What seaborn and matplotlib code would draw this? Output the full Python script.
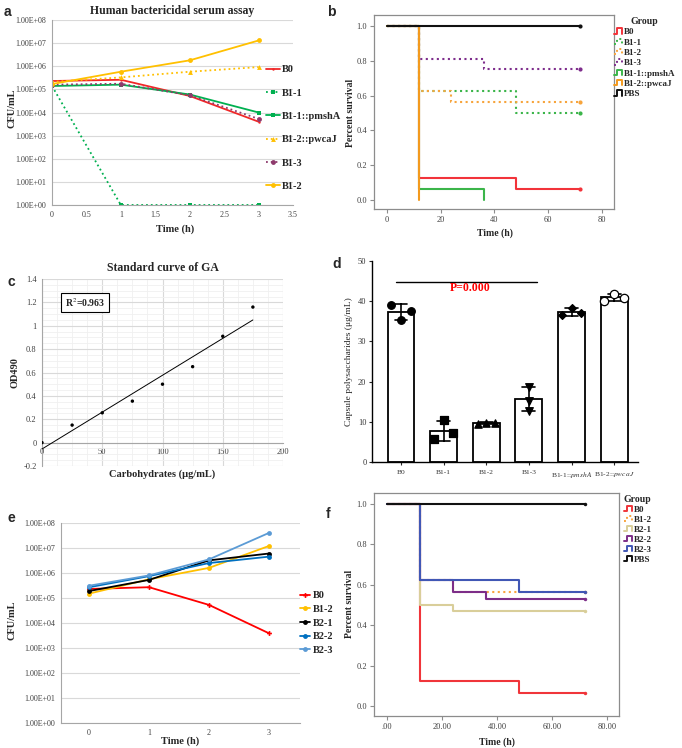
import numpy as np
import pandas as pd
import seaborn as sns
import matplotlib
matplotlib.use('Agg')
import matplotlib.pyplot as plt
from matplotlib.lines import Line2D
from matplotlib.legend_handler import HandlerBase
from matplotlib.ticker import NullLocator, MultipleLocator, FuncFormatter

sns.set_theme(style='white')
plt.rcParams['font.family'] = ['Liberation Serif', 'DejaVu Serif']
plt.rcParams['mathtext.fontset'] = 'stix'

### data

# a: human bactericidal serum assay
a_time = [0, 1, 2, 3]
a_groups = ['B0', 'B1-1', 'B1-1::pmshA', 'B1-2::pwcaJ', 'B1-3', 'B1-2']
a_cfu = [[2.3e5, 2.6e5, 5.2e4, 4.0e3],
         [1.4e5, 1, 1, 1],
         [1.4e5, 1.6e5, 6.0e4, 1.0e4],
         [2.1e5, 3.3e5, 5.8e5, 9.2e5],
         [1.6e5, 1.75e5, 5.6e4, 5.3e3],
         [1.7e5, 5.8e5, 1.8e6, 1.3e7]]

# b: survival, first set of strains
b_groups = ['B0', 'B1-1', 'B1-2', 'B1-3', 'B1-1::pmshA', 'B1-2::pwcaJ', 'PBS']
b_times = [[0, 12, 48, 72], [0, 12, 48, 72], [0, 12, 24, 72], [0, 12, 36, 72],
           [0, 12, 36], [0, 12], [0, 72]]
b_surv = [[1, 0.125, 0.0625, 0.0625], [1, 0.625, 0.5, 0.5], [1, 0.625, 0.5625, 0.5625],
          [1, 0.8125, 0.75, 0.75], [1, 0.0625, 0.0], [1, 0.0], [1, 1]]
b_censored = [True, True, True, True, False, False, True]

# c: standard curve
c_carb = [0, 25, 50, 75, 100, 125, 150, 175]
c_od = [0.0, 0.15, 0.255, 0.355, 0.50, 0.65, 0.91, 1.16]

# d: capsule polysaccharides
d_groups = ['B0', 'B1-1', 'B1-2', 'B1-3', 'B1-1::pmshA', 'B1-2::pwcaJ']
d_ticklabels = ['B0', 'B1-1', 'B1-2', 'B1-3', r'B1-1::$\mathit{pmshA}$', r'B1-2::$\mathit{pwcaJ}$']
d_points = [[39.0, 35.2, 37.6], [5.7, 10.4, 7.1], [9.4, 9.8, 9.7],
            [18.7, 15.2, 12.8], [36.6, 38.4, 37.0], [40.1, 41.8, 40.9]]

# e: serum assay, second set
e_time = [0, 1, 2, 3]
e_groups = ['B0', 'B1-2', 'B2-1', 'B2-2', 'B2-3']
e_cfu = [[2.3e5, 2.7e5, 5.3e4, 3.9e3],
         [1.5e5, 5.6e5, 1.6e6, 1.2e7],
         [1.9e5, 5.3e5, 3.2e6, 6.0e6],
         [2.7e5, 7.5e5, 2.5e6, 4.5e6],
         [3.1e5, 8.0e5, 3.5e6, 4.0e7]]

# f: survival, second set
f_groups = ['B0', 'B1-2', 'B2-1', 'B2-2', 'B2-3', 'PBS']
f_times = [[0, 12, 48, 72], [0, 12, 24, 72], [0, 12, 24, 72], [0, 12, 24, 36, 72],
           [0, 12, 48, 72], [0, 72]]
f_surv = [[1, 0.125, 0.0625, 0.0625], [1, 0.625, 0.5625, 0.5625], [1, 0.5, 0.46875, 0.46875],
          [1, 0.625, 0.5625, 0.53125, 0.53125], [1, 0.625, 0.5625, 0.5625], [1, 1]]

### layout helpers

W, H = 682, 748
fig = plt.figure(figsize=(W / 100, H / 100), dpi=100)


def add_ax(box):
    l, t, r, b = box
    return fig.add_axes([l / W, 1 - b / H, (r - l) / W, (b - t) / H])


def place_labels(ax, box, xlab, ylab, xpos, ypos, size=7.5, weight='bold'):
    l, t, r, b = box
    ax.set_xlabel(xlab, fontsize=size, fontweight=weight, va='center', ha='center')
    ax.set_ylabel(ylab, fontsize=size, fontweight=weight, va='center', ha='center')
    ax.xaxis.set_label_coords((xpos[0] - l) / (r - l), (b - xpos[1]) / (b - t))
    ax.yaxis.set_label_coords((ypos[0] - l) / (r - l), (b - ypos[1]) / (b - t))


class StepHandler(HandlerBase):
    def create_artists(self, legend, orig, xd, yd, w, h, fs, trans):
        xs = np.array([0, 0.35, 0.35, 1.0, 1.0]) * w - xd
        ys = np.array([0.1, 0.1, 0.95, 0.95, 0.1]) * h - yd
        ln = Line2D(xs, ys, color=orig.get_color(), linestyle=orig.get_linestyle(), lw=1.4)
        ln.set_transform(trans)
        return [ln]


def fig_anchor(x, y):
    return (x / W, 1 - y / H)


def cfu_axes(ax):
    ax.set_yscale('log')
    ax.set_ylim(1, 1e8)
    ax.set_yticks([10 ** i for i in range(9)])
    ax.set_yticklabels(['1.00E+%02d' % i for i in range(9)])
    ax.yaxis.set_minor_locator(NullLocator())
    ax.grid(axis='y', color='#D9D9D9', lw=0.8)
    ax.grid(axis='x', visible=False)
    for s in ['top', 'right']:
        ax.spines[s].set_visible(False)
    for s in ['left', 'bottom']:
        ax.spines[s].set_color('#A6A6A6')
        ax.spines[s].set_linewidth(0.8)
    ax.tick_params(length=0, labelsize=5.8, colors='#404040', pad=4)


def km_axes(ax, xlim, ylim):
    ax.set_xlim(*xlim)
    ax.set_ylim(*ylim)
    ax.set_yticks([0, 0.2, 0.4, 0.6, 0.8, 1.0])
    ax.yaxis.set_major_formatter(FuncFormatter(lambda v, p: '%.1f' % v))
    for s in ax.spines.values():
        s.set_color('#8C8C8C')
        s.set_linewidth(0.9)
    ax.tick_params(direction='out', length=3, width=0.8, colors='#8C8C8C',
                   labelcolor='#404040', labelsize=6, left=True, bottom=True, pad=2)
    ax.grid(False)


### panel a
box_a = (52, 20, 293, 205)
ax = add_ax(box_a)
a_colors = ['#F02828', '#00B050', '#00B050', '#FFC000', '#8E3A6C', '#FFC000']
a_styles = ['-', ':', '-', ':', ':', '-']
a_markers = ['.', 's', 's', '^', 'o', 'o']
for g, vals, col, ls, mk in zip(a_groups, a_cfu, a_colors, a_styles, a_markers):
    sns.lineplot(x=a_time, y=vals, ax=ax, color=col, linestyle=ls, marker=mk,
                 markersize=3.5, markeredgewidth=0, lw=1.3, label=g, errorbar=None, legend=False)
cfu_axes(ax)
ax.set_xlim(0, 3.5)
ax.set_xticks([0, 0.5, 1, 1.5, 2, 2.5, 3, 3.5])
ax.set_xticklabels(['0', '0.5', '1', '1.5', '2', '2.5', '3', '3.5'])
ax.set_title('Human bactericidal serum assay', fontsize=8.5, fontweight='bold', pad=4)
place_labels(ax, box_a, 'Time (h)', 'CFU/mL', (175, 229), (12, 108))
h, l = ax.get_legend_handles_labels()
ax.legend(h, l, loc='upper left', bbox_to_anchor=fig_anchor(266, 65), bbox_transform=fig.transFigure,
          frameon=False, prop={'weight': 'bold', 'size': 7.5}, handlelength=1.3,
          handletextpad=0.25, labelspacing=1.35, borderpad=0, borderaxespad=0)

### panel b
box_b = (374, 15, 614, 209)
ax = add_ax(box_b)
b_colors = ['#F2333A', '#3BB54A', '#F7A43C', '#7E2D8C', '#3BB54A', '#F39A1E', '#111111']
b_styles = ['-', ':', ':', ':', '-', '-', '-']
for g, t, s, col, ls, cens in zip(b_groups, b_times, b_surv, b_colors, b_styles, b_censored):
    sns.lineplot(x=t, y=s, ax=ax, color=col, linestyle=ls, lw=1.5, drawstyle='steps-post',
                 sort=False, estimator=None, label=g, legend=False)
    if cens:
        ax.plot(t[-1], s[-1], marker='o', ms=3, color=col, mew=0)
km_axes(ax, (-4.8, 84.5), (-0.052, 1.063))
ax.set_xticks([0, 20, 40, 60, 80])
place_labels(ax, box_b, 'Time (h)', 'Percent survival', (495, 233), (351, 113), size=7)
h, l = ax.get_legend_handles_labels()
ax.legend(h, l, title='Group', loc='upper left', bbox_to_anchor=fig_anchor(614, 17),
          bbox_transform=fig.transFigure, frameon=False, prop={'weight': 'bold', 'size': 6.5},
          title_fontproperties={'weight': 'bold', 'size': 7}, handlelength=0.9,
          handletextpad=0.15, labelspacing=0.22, borderpad=0, borderaxespad=0,
          handler_map={Line2D: StepHandler()})

### panel c
box_c = (42, 279, 283, 466)
ax = add_ax(box_c)
sns.scatterplot(x=c_carb, y=c_od, ax=ax, color='black', s=6, edgecolor='none', zorder=3)
slope, icpt = np.polyfit(c_carb, c_od, 1)
fit_x = np.array([0, c_carb[-1]])
sns.lineplot(x=fit_x, y=slope * fit_x + icpt, ax=ax, color='black', lw=0.7, zorder=3)
ax.set_xlim(0, 200)
ax.set_ylim(-0.2, 1.4)
ax.set_xticks([0, 50, 100, 150, 200])
ax.set_yticks([-0.2, 0, 0.2, 0.4, 0.6, 0.8, 1.0, 1.2, 1.4])
ax.yaxis.set_major_formatter(FuncFormatter(lambda v, p: '%g' % round(v, 2)))
ax.xaxis.set_minor_locator(MultipleLocator(12.5))
ax.yaxis.set_minor_locator(MultipleLocator(0.05))
ax.grid(which='major', color='#D9D9D9', lw=0.8)
ax.grid(which='minor', color='#F0F0F0', lw=0.6)
ax.set_axisbelow(True)
ax.spines['top'].set_visible(False)
ax.spines['right'].set_visible(False)
ax.spines['bottom'].set_position(('data', 0))
for s in ['left', 'bottom']:
    ax.spines[s].set_color('#A6A6A6')
    ax.spines[s].set_linewidth(0.8)
ax.tick_params(which='both', length=0, labelsize=6, colors='#404040', pad=4)
ax.text(19, 1.2, 'R$^2$=0.963', fontsize=7, fontweight='bold', va='center', ha='left',
        bbox=dict(boxstyle='square,pad=0.35', fc='white', ec='black', lw=0.8))
ax.set_title('Standard curve of GA', fontsize=8.5, fontweight='bold', pad=6)
place_labels(ax, box_c, 'Carbohydrates (μg/mL)', 'OD490', (162, 474), (15, 373))

### panel d
box_d = (372, 261, 638, 462)
ax = add_ax(box_d)
df_d = pd.DataFrame({'group': np.repeat(d_groups, 3), 'value': np.concatenate(d_points)})
sns.barplot(data=df_d, x='group', y='value', errorbar='sd', color='white', edgecolor='black',
            linewidth=1.3, width=0.63, capsize=0.3, err_kws={'color': 'black', 'linewidth': 1.2}, ax=ax)
d_markers = ['o', 's', '^', 'v', 'D', 'o']
d_fill = ['black', 'black', 'black', 'black', 'black', 'white']
d_sizes = [30, 30, 28, 30, 16, 36]
d_offsets = [[-0.23, 0, 0.23], [-0.23, 0, 0.23], [-0.2, 0, 0.2],
             [0, 0, 0], [-0.23, 0, 0.23], [-0.23, 0, 0.23]]
for i, (pts, mk, fc, sz, off) in enumerate(zip(d_points, d_markers, d_fill, d_sizes, d_offsets)):
    ax.scatter(np.array(off) + i, pts, marker=mk, s=sz, facecolor=fc, edgecolor='black',
               linewidth=0.9, zorder=4)
ax.set_xlim(-0.68, 5.56)
ax.set_ylim(0, 50)
ax.set_yticks([0, 10, 20, 30, 40, 50])
ax.set_xticks(range(len(d_groups)))
ax.set_xticklabels(d_ticklabels)
for s in ['top', 'right']:
    ax.spines[s].set_visible(False)
for s in ['left', 'bottom']:
    ax.spines[s].set_color('black')
    ax.spines[s].set_linewidth(1.0)
ax.tick_params(direction='out', length=2.5, width=0.8, labelsize=6, labelcolor='#333333',
               left=True, bottom=True, pad=1.5)
ax.tick_params(axis='x', labelsize=5.4, pad=3)
ax.plot([-0.12, 3.19], [44.8, 44.8], color='black', lw=1.0)
ax.text(1.62, 43.2, 'P=0.000', color='#FF0000', fontsize=8.5, fontweight='bold', ha='center', va='center')
place_labels(ax, box_d, '', 'Capsule polysaccharides (μg/mL)', (505, 480), (349, 362),
             size=6.8, weight='normal')

### panel e
box_e = (61, 523, 300, 723)
ax = add_ax(box_e)
e_colors = ['#FF0000', '#FFC000', '#000000', '#0070C0', '#5B9BD5']
e_markers = ['P', 'o', 'o', 'o', 'o']
for g, vals, col, mk in zip(e_groups, e_cfu, e_colors, e_markers):
    sns.lineplot(x=e_time, y=vals, ax=ax, color=col, marker=mk, markersize=3.5,
                 markeredgewidth=0, lw=1.3, label=g, errorbar=None, legend=False)
cfu_axes(ax)
ax.set_xlim(-0.47, 3.52)
ax.set_xticks(e_time)
place_labels(ax, box_e, 'Time (h)', 'CFU/mL', (180, 741), (12, 620))
h, l = ax.get_legend_handles_labels()
ax.legend(h, l, loc='upper left', bbox_to_anchor=fig_anchor(300, 591), bbox_transform=fig.transFigure,
          frameon=False, prop={'weight': 'bold', 'size': 7.5}, handlelength=1.0,
          handletextpad=0.2, labelspacing=0.42, borderpad=0, borderaxespad=0)

### panel f
box_f = (374, 493, 619, 716)
ax = add_ax(box_f)
f_colors = ['#F0353A', '#F9A53F', '#D9CE9A', '#7D2E88', '#4157B5', '#111111']
f_styles = ['-', ':', '-', '-', '-', '-']
for g, t, s, col, ls in zip(f_groups, f_times, f_surv, f_colors, f_styles):
    sns.lineplot(x=t, y=s, ax=ax, color=col, linestyle=ls, lw=1.5, drawstyle='steps-post',
                 sort=False, estimator=None, label=g, legend=False)
    ax.plot(t[-1], s[-1], marker='o', ms=2.5, color=col, mew=0)
km_axes(ax, (-4.7, 84.4), (-0.05, 1.054))
ax.set_xticks([0, 20, 40, 60, 80])
ax.set_xticklabels(['.00', '20.00', '40.00', '60.00', '80.00'])
place_labels(ax, box_f, 'Time (h)', 'Percent survival', (497, 742), (350, 604), size=7)
h, l = ax.get_legend_handles_labels()
ax.legend(h, l, title='Group', loc='upper left', bbox_to_anchor=fig_anchor(624, 495),
          bbox_transform=fig.transFigure, frameon=False, prop={'weight': 'bold', 'size': 6.5},
          title_fontproperties={'weight': 'bold', 'size': 7}, handlelength=0.9,
          handletextpad=0.15, labelspacing=0.18, borderpad=0, borderaxespad=0,
          handler_map={Line2D: StepHandler()})

### panel letters
for letter, x, y in [('a', 4, 12), ('b', 327, 12), ('c', 8, 282), ('d', 332, 264),
                     ('e', 8, 518), ('f', 326, 514)]:
    fig.text(x / W, 1 - y / H, letter, fontsize=10, fontweight='bold',
             family=['Liberation Sans', 'DejaVu Sans'], va='center', ha='left')

fig.savefig('out.png', dpi=100, facecolor='white')
